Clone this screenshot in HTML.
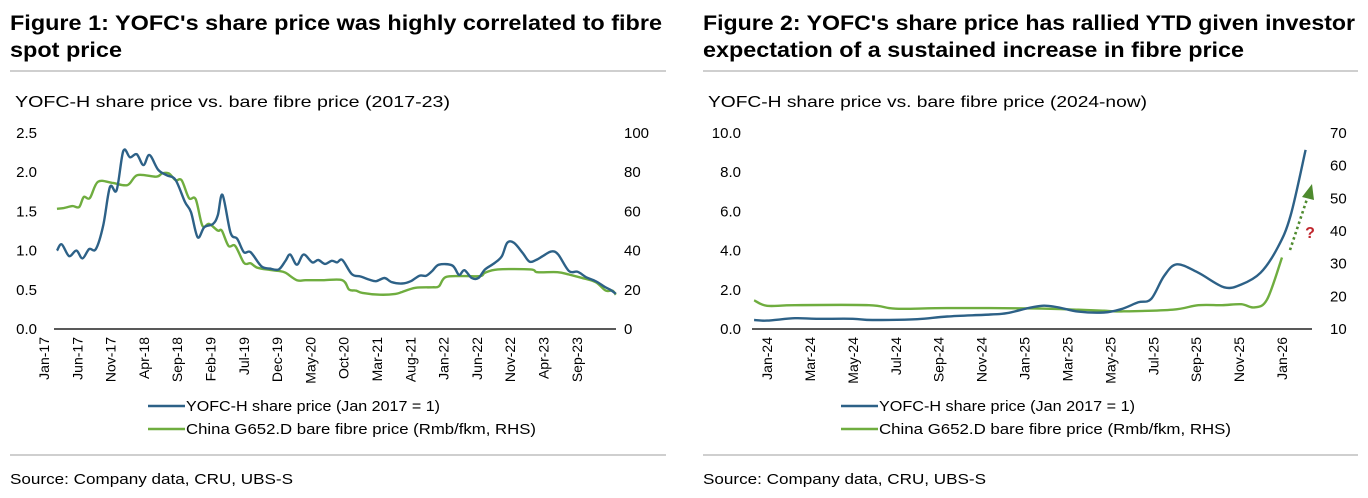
<!DOCTYPE html>
<html><head><meta charset="utf-8"><style>
html,body{margin:0;padding:0;background:#fff;}
svg{display:block;font-family:"Liberation Sans",sans-serif;}
</style></head><body>
<svg id="root" width="1368" height="498" viewBox="0 0 1368 498" xmlns="http://www.w3.org/2000/svg">
<g>
<text x="10" y="30" font-size="21" font-weight="bold" fill="#000" textLength="652" lengthAdjust="spacingAndGlyphs">Figure 1: YOFC's share price was highly correlated to fibre</text>
<text x="10" y="57" font-size="21" font-weight="bold" fill="#000" textLength="112" lengthAdjust="spacingAndGlyphs">spot price</text>
<line x1="10" y1="71" x2="666" y2="71" stroke="#cfcfcf" stroke-width="2"/>
<text x="15" y="107" font-size="16" fill="#000" textLength="435" lengthAdjust="spacingAndGlyphs">YOFC-H share price vs. bare fibre price (2017-23)</text>
<line x1="10" y1="455" x2="666" y2="455" stroke="#cfcfcf" stroke-width="2"/>
<text x="10" y="484" font-size="15" fill="#000" textLength="283" lengthAdjust="spacingAndGlyphs">Source: Company data, CRU, UBS-S</text>
<g id="c1"></g>
</g>
<g>
<text x="703" y="30" font-size="21" font-weight="bold" fill="#000" textLength="652" lengthAdjust="spacingAndGlyphs">Figure 2: YOFC's share price has rallied YTD given investor</text>
<text x="703" y="57" font-size="21" font-weight="bold" fill="#000" textLength="541" lengthAdjust="spacingAndGlyphs">expectation of a sustained increase in fibre price</text>
<line x1="703" y1="71" x2="1358" y2="71" stroke="#cfcfcf" stroke-width="2"/>
<text x="708" y="107" font-size="16" fill="#000" textLength="439" lengthAdjust="spacingAndGlyphs">YOFC-H share price vs. bare fibre price (2024-now)</text>
<line x1="703" y1="455" x2="1358" y2="455" stroke="#cfcfcf" stroke-width="2"/>
<text x="703" y="484" font-size="15" fill="#000" textLength="283" lengthAdjust="spacingAndGlyphs">Source: Company data, CRU, UBS-S</text>
<g id="c2"></g>
</g>
</svg>
<script>
// ---- Chart 1 data (month index from Jan-17) ----
const c1Ticks = ["Jan-17","Jun-17","Nov-17","Apr-18","Sep-18","Feb-19","Jul-19","Dec-19","May-20","Oct-20","Mar-21","Aug-21","Jan-22","Jun-22","Nov-22","Apr-23","Sep-23"];
const c1LeftTicks = ["0.0","0.5","1.0","1.5","2.0","2.5"];
const c1RightTicks = ["0","20","40","60","80","100"];
const c1BlueM = [0,0.7,1.8,2.9,3.8,4.8,5.8,6.9,7.9,8.9,9.9,10.9,11.9,12.9,13.8,15.1,16.4,17.7,19.1,20,21,22,23.3,24,24.7,25.9,26.9,27.9,28.9,30.5,31.8,33.1,34.1,34.8,35.8,36.8,38.1,39,40,41,41.8,42.6,44,45.3,46.6,47.6,48.9,49.9,51.5,52.8,54.1,55.1,56,57,59,60,60.8,61.9,62.9,63.9,65.3,66.4,67.2,68.2,69.5,70.5,71.5,72.5,73.8,74.8,76.4,77.7,79,80.4,81.7,82.6,83.4];
const c1BlueV = [1.0,1.08,0.93,1.0,0.9,1.02,1.02,1.32,1.81,1.77,2.27,2.19,2.23,2.09,2.22,2.03,1.96,1.9,1.62,1.49,1.17,1.3,1.34,1.45,1.71,1.23,1.15,0.98,0.98,0.8,0.77,0.76,0.87,0.95,0.82,0.95,0.85,0.88,0.83,0.87,0.85,0.88,0.7,0.67,0.63,0.61,0.65,0.6,0.58,0.61,0.68,0.68,0.74,0.82,0.81,0.69,0.75,0.65,0.65,0.76,0.84,0.93,1.1,1.1,0.97,0.86,0.88,0.93,0.99,0.95,0.74,0.73,0.66,0.61,0.54,0.5,0.45];
const c1GreenM = [0,1,2.3,3.3,4,4.9,6.1,8.2,10.5,12,14.8,15.7,16.7,17.7,18.6,19.7,20.7,21.7,22.7,24,24.6,25.6,26.6,27.9,28.9,29.9,31.8,33.1,34.1,35.8,37.1,39.7,42.6,43.6,44.6,45.6,48.2,50.5,51.5,53.5,56,57,58,60.6,63.2,63.9,65.8,70.7,71.7,74.7,76.4,78.3,80.4,81.9,82.9,83.4];
const c1GreenV = [61.3,61.7,62.7,62.2,67.4,66.8,75.1,74.6,73.4,78.5,77.7,79.4,79.4,75.9,75.9,66.8,66.2,52.7,53.6,50.2,50.2,42.4,42.4,33.8,33.5,31.3,30.1,29.6,28.7,24.9,24.9,24.9,24.9,20.1,19.6,18.4,17.5,17.9,18.9,21,21.3,21.8,26.5,27,27,28.7,30.4,30.4,29,29,27.8,26.1,23.9,19.6,19.6,17.5];
// ---- Chart 2 data (month index from Jan-24) ----
const c2Ticks = ["Jan-24","Mar-24","May-24","Jul-24","Sep-24","Nov-24","Jan-25","Mar-25","May-25","Jul-25","Sep-25","Nov-25","Jan-26"];
const c2LeftTicks = ["0.0","2.0","4.0","6.0","8.0","10.0"];
const c2RightTicks = ["10","20","30","40","50","60","70"];
const c2BlueM = [-0.6,0,1.3,2.3,4,4.9,7,8.4,10.4,11.2,12.9,14.5,15.7,16.5,17.3,17.9,18.5,19.1,20.1,21.3,22.1,23,23.8,24.4,25.1];
const c2BlueV = [0.46,0.43,0.55,0.52,0.52,0.46,0.5,0.64,0.74,0.81,1.19,0.89,0.84,1.01,1.36,1.53,2.7,3.3,2.87,2.13,2.27,2.87,4.16,5.79,9.14];
const c2GreenM = [-0.6,0,1.3,4.75,6,8.4,12.4,14.5,15.7,16.5,18.9,20.1,21.2,22.1,22.7,23.3,24];
const c2GreenV = [18.8,17.1,17.3,17.3,16.2,16.4,16.3,15.9,15.6,15.4,15.9,17.3,17.3,17.6,16.6,19.0,31.9];

const NS = "http://www.w3.org/2000/svg";
const BLUE = "#2d6187", GREEN = "#6fad3f";
function mk(parent, tag, attrs, txt){
  const e = document.createElementNS(NS, tag);
  for (const k in attrs) e.setAttribute(k, attrs[k]);
  if (txt !== undefined) e.textContent = txt;
  parent.appendChild(e);
  return e;
}
function smooth(pts){
  let d = "M" + pts[0][0].toFixed(1) + "," + pts[0][1].toFixed(1);
  for (let i = 0; i < pts.length - 1; i++){
    const p0 = pts[Math.max(i-1,0)], p1 = pts[i], p2 = pts[i+1], p3 = pts[Math.min(i+2,pts.length-1)];
    const c1x = p1[0] + (p2[0]-p0[0])/6, c1y = p1[1] + (p2[1]-p0[1])/6;
    const c2x = p2[0] - (p3[0]-p1[0])/6, c2y = p2[1] - (p3[1]-p1[1])/6;
    d += " C" + c1x.toFixed(1)+","+c1y.toFixed(1)+" "+c2x.toFixed(1)+","+c2y.toFixed(1)+" "+p2[0].toFixed(1)+","+p2[1].toFixed(1);
  }
  return d;
}
function drawChart(g, o){
  o.leftTicks.forEach((t,i)=>{
    const el = mk(g,"text",{x:o.leftX,y:o.yL(parseFloat(t))+5,"font-size":15,"text-anchor":"end",fill:"#000"},t);
    
    
  });
  o.rightTicks.forEach((t,i)=>{
    const el = mk(g,"text",{x:o.rightX,y:o.yR(parseFloat(t))+5,"font-size":15,fill:"#000"},t);
    
    
  });
  o.xTicks.forEach((t,i)=>{
    const x = o.xl(i*o.tickStep);
    const el = mk(g,"text",{x:0,y:0,"font-size":14,"text-anchor":"end",fill:"#000",transform:"translate("+(x+5)+",337) rotate(-90)"},t);
    
    
  });
  const ax = mk(g,"line",{x1:o.ax0,y1:329,x2:o.ax1,y2:329,stroke:"#222","stroke-width":1.6});
  
  
  const gp = mk(g,"path",{d:smooth(o.greenM.map((m,i)=>[o.x(m),o.yR(o.greenV[i])])),fill:"none",stroke:GREEN,"stroke-width":2.4,"stroke-linejoin":"round"});
  
  
  const bp = mk(g,"path",{d:smooth(o.blueM.map((m,i)=>[o.x(m),o.yL(o.blueV[i])])),fill:"none",stroke:BLUE,"stroke-width":2.4,"stroke-linejoin":"round"});
  
  
  const l1 = mk(g,"line",{x1:o.legX,y1:406,x2:o.legX+37,y2:406,stroke:BLUE,"stroke-width":2.4});
  
  
  const t1 = mk(g,"text",{x:o.legX+38,y:411,"font-size":15,fill:"#000",textLength:o.leg1W,lengthAdjust:"spacingAndGlyphs"},"YOFC-H share price (Jan 2017 = 1)");
  
  
  const l2 = mk(g,"line",{x1:o.legX,y1:429,x2:o.legX+37,y2:429,stroke:GREEN,"stroke-width":2.4});
  
  
  const t2 = mk(g,"text",{x:o.legX+38,y:434,"font-size":15,fill:"#000",textLength:o.leg2W,lengthAdjust:"spacingAndGlyphs"},"China G652.D bare fibre price (Rmb/fkm, RHS)");
  
  
}
drawChart(document.getElementById("c1"),{
  x:m=>57+m*6.7, xl:m=>44+m*6.66, yL:v=>329-v*78.4, yR:v=>329-v*1.96,
  leftTicks:c1LeftTicks, rightTicks:c1RightTicks, xTicks:c1Ticks, tickStep:5,
  leftX:37, rightX:624, ax0:54, ax1:616,
  blueM:c1BlueM, blueV:c1BlueV, greenM:c1GreenM, greenV:c1GreenV,
  legX:148, leg1W:254, leg2W:350
});
drawChart(document.getElementById("c2"),{
  x:m=>767+m*21.46, xl:m=>767+m*21.46, yL:v=>329-v*19.6, yR:v=>329-(v-10)*3.267,
  leftTicks:c2LeftTicks, rightTicks:c2RightTicks, xTicks:c2Ticks, tickStep:2,
  leftX:741, rightX:1330, ax0:752, ax1:1312,
  blueM:c2BlueM, blueV:c2BlueV, greenM:c2GreenM, greenV:c2GreenV,
  legX:841, leg1W:256, leg2W:352
});
const g2 = document.getElementById("c2");
const arr = mk(g2,"line",{x1:1290,y1:250,x2:1308,y2:196,stroke:"#4e8a2e","stroke-width":2.6,"stroke-dasharray":"2.5,3"});


const head = mk(g2,"polygon",{points:"1312,184 1302,197 1314,200",fill:"#4e8a2e"});


const q = mk(g2,"text",{x:1310,y:238,"font-size":16,"font-weight":"bold","text-anchor":"middle",fill:"#c0262d"},"?");


</script>
</body></html>
